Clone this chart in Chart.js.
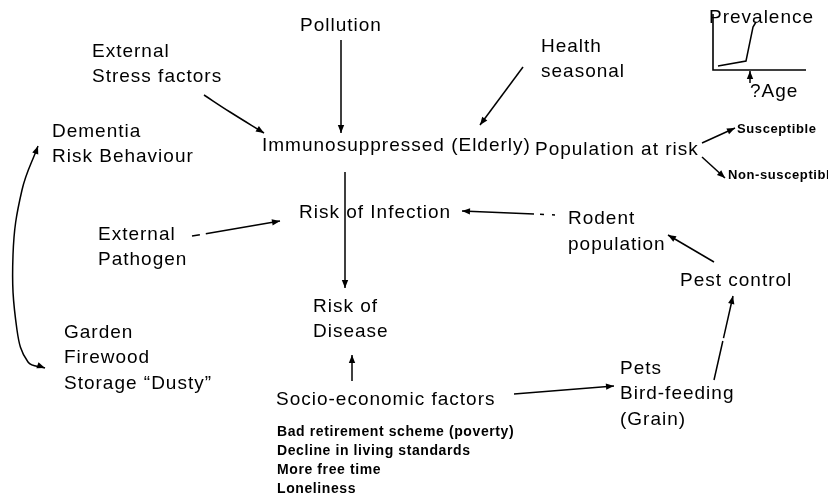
<!DOCTYPE html>
<html lang="en">
<head>
  <meta charset="UTF-8" />
  <title>Risk of Disease diagram</title>
  <script src="https://cdn.jsdelivr.net/npm/chart.js"></script>
  <style>
    body { margin: 0; background: #ffffff; }
    #wrap { width: 828px; height: 501px; }
  </style>
</head>
<body>
  <div id="wrap"><canvas id="diagram" width="828" height="501"></canvas></div>

  <script>
    // node labels (diagram units: x from left, y from top)
    const labelText = [
      'Pollution', 'External', 'Stress factors', 'Health', 'seasonal',
      'Prevalence', '?Age',
      'Dementia', 'Risk Behaviour',
      'Immunosuppressed (Elderly)', 'Population at risk',
      'Susceptible', 'Non-susceptible',
      'Risk of Infection', 'Rodent', 'population',
      'External', 'Pathogen', 'Pest control',
      'Risk of', 'Disease',
      'Garden', 'Firewood', 'Storage \u201cDusty\u201d',
      'Pets', 'Bird-feeding', '(Grain)',
      'Socio-economic factors',
      'Bad retirement scheme (poverty)', 'Decline in living standards', 'More free time', 'Loneliness'
    ];
    const labelX = [
      300, 92, 92, 541, 541,
      709, 750,
      52, 52,
      262, 535,
      737, 728,
      299, 568, 568,
      98, 98, 680,
      313, 313,
      64, 64, 64,
      620, 620, 620,
      276,
      277, 277, 277, 277
    ];
    const labelY = [
      26, 52, 77, 47, 72,
      18, 92,
      132, 157,
      146, 150,
      129, 175,
      213, 219, 245,
      235, 260, 281,
      307, 332,
      333, 358, 384,
      369, 394, 420,
      400,
      432, 451, 470, 489
    ];
    const labelSize = [
      19, 19, 19, 19, 19,
      19, 19,
      19, 19,
      19, 19,
      13, 13,
      19, 19, 19,
      19, 19, 19,
      19, 19,
      19, 19, 19,
      19, 19, 19,
      19,
      14, 14, 14, 14
    ];
    const labelBold = labelText.map((t, i) => i === 11 || i === 12 || i >= 28);
    const labelSpacing = labelSize.map(s => (s >= 19 ? 1 : 0.6));

    // connectors: point lists, plus which ends carry an arrowhead
    const arrowPaths = [
      [[341, 40], [341, 133]],                               // Pollution
      [[204, 95], [230, 112], [264, 133]],                   // External stress
      [[523, 67], [480, 125]],                               // Health seasonal
      [[345, 172], [345, 288]],                              // Immuno -> Risk of disease
      [[192, 236], [280, 221]],                              // External pathogen
      [[555, 215], [462, 211]],                              // Rodent -> Infection
      [[714, 262], [668, 235]],                              // Pest control -> Rodent
      [[714, 380], [733, 296]],                              // Pets -> Pest control
      [[514, 394], [614, 386]],                              // Socio -> Pets
      [[352, 381], [352, 355]],                              // Socio -> Risk of disease
      [[702, 143], [735, 128]],                              // -> Susceptible
      [[702, 157], [725, 178]],                              // -> Non-susceptible
      [[38, 146], [22, 190], [13, 255], [17, 330], [28, 362], [45, 368]], // Dementia <-> Garden
      [[750, 83], [750, 71]]                                 // ? -> age mark
    ];
    const arrowStart = [false, false, false, false, false, false, false, false, false, false, false, false, true, false];
    const arrowEnd = [true, true, true, true, true, true, true, true, true, true, true, true, true, true];
    const arrowDash = [[], [], [], [], [8, 6, 200, 0], [3, 8, 4, 6, 200, 0], [], [40, 3, 200, 0], [], [], [], [], [], []];

    // inset prevalence sketch
    const insetAxes = [[[713, 14], [713, 70], [806, 70]]];
    const insetCurve = [[718, 66], [746, 61], [753, 27], [756, 22]];

    const toPts = p => p.map(([x, y]) => ({ x, y }));

    const datasets = arrowPaths.map((p, i) => ({
      data: toPts(p),
      showLine: true,
      borderColor: '#000',
      borderWidth: 1.5,
      borderDash: arrowDash[i],
      pointRadius: 0,
      tension: p.length > 2 ? 0.4 : 0
    }));
    insetAxes.forEach(p => datasets.push({
      data: toPts(p), showLine: true, borderColor: '#000', borderWidth: 1.6, pointRadius: 0
    }));
    datasets.push({
      data: toPts(insetCurve), showLine: true, borderColor: '#000', borderWidth: 1.5, pointRadius: 0
    });

    function head(ctx, x1, y1, x2, y2) {
      const a = Math.atan2(y2 - y1, x2 - x1);
      const len = 8, w = 3.2;
      ctx.beginPath();
      ctx.moveTo(x2, y2);
      ctx.lineTo(x2 - len * Math.cos(a) + w * Math.sin(a), y2 - len * Math.sin(a) - w * Math.cos(a));
      ctx.lineTo(x2 - len * Math.cos(a) - w * Math.sin(a), y2 - len * Math.sin(a) + w * Math.cos(a));
      ctx.closePath();
      ctx.fill();
    }

    const diagramPlugin = {
      id: 'diagram',
      afterDatasetsDraw(chart) {
        const { ctx, scales: { x, y } } = chart;
        ctx.save();
        ctx.fillStyle = '#000';
        arrowPaths.forEach((p, i) => {
          const n = p.length;
          if (arrowEnd[i]) {
            head(ctx, x.getPixelForValue(p[n - 2][0]), y.getPixelForValue(p[n - 2][1]),
                      x.getPixelForValue(p[n - 1][0]), y.getPixelForValue(p[n - 1][1]));
          }
          if (arrowStart[i]) {
            head(ctx, x.getPixelForValue(p[1][0]), y.getPixelForValue(p[1][1]),
                      x.getPixelForValue(p[0][0]), y.getPixelForValue(p[0][1]));
          }
        });
        ctx.textBaseline = 'middle';
        ctx.textAlign = 'left';
        labelText.forEach((t, i) => {
          ctx.font = (labelBold[i] ? 'bold ' : '') + labelSize[i] + 'px "Liberation Sans", Arial, sans-serif';
          ctx.letterSpacing = labelSpacing[i] + 'px';
          ctx.fillText(t, x.getPixelForValue(labelX[i]), y.getPixelForValue(labelY[i]));
        });
        ctx.restore();
      }
    };

    new Chart(document.getElementById('diagram'), {
      type: 'scatter',
      data: { datasets },
      options: {
        responsive: false,
        animation: false,
        layout: { padding: 0 },
        scales: {
          x: { type: 'linear', min: 0, max: 828, display: false },
          y: { type: 'linear', min: 0, max: 501, reverse: true, display: false }
        },
        plugins: { legend: { display: false }, tooltip: { enabled: false } }
      },
      plugins: [diagramPlugin]
    });
  </script>
</body>
</html>
